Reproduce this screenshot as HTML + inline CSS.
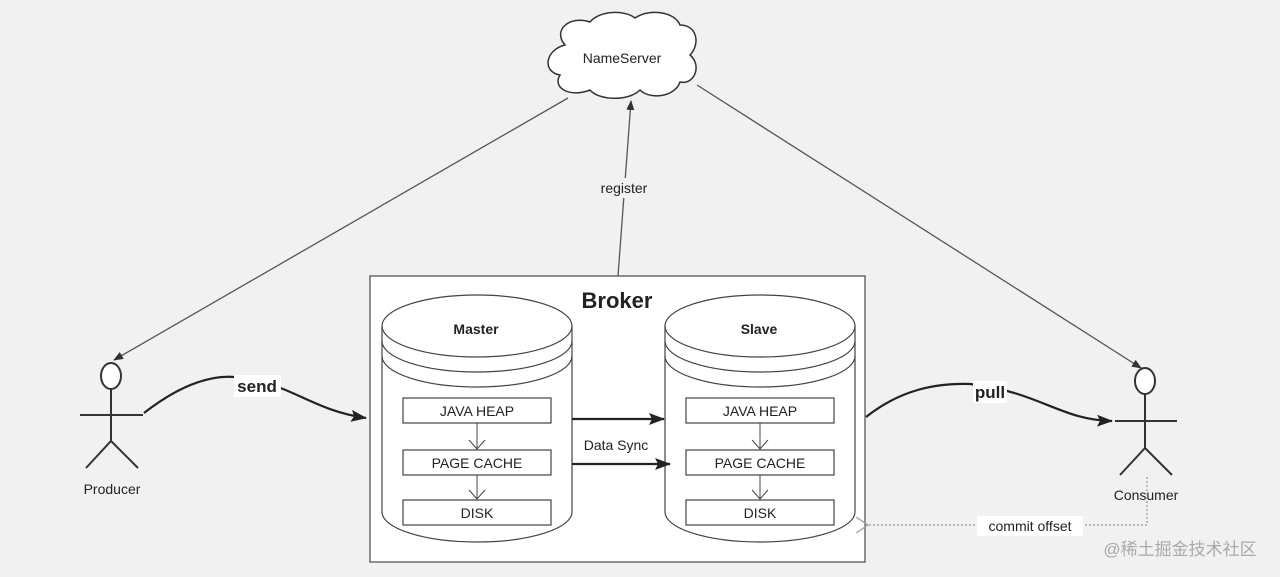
<!DOCTYPE html>
<html><head><meta charset="utf-8"><style>
html,body{margin:0;padding:0;background:#f1f1f1;}
svg{display:block}
text{font-family:"Liberation Sans",Arial,sans-serif;fill:#222}
</style></head><body>
<svg width="1280" height="577" viewBox="0 0 1280 577" xmlns="http://www.w3.org/2000/svg">
<defs>
<marker id="a" markerWidth="10" markerHeight="8" refX="9" refY="4" orient="auto" markerUnits="userSpaceOnUse"><path d="M0,0 L10,4 L0,8 Z" fill="#333"/></marker>
<marker id="b" markerWidth="16" markerHeight="12" refX="15" refY="6" orient="auto" markerUnits="userSpaceOnUse"><path d="M0,0 L16,6 L0,12 L3,6 Z" fill="#222"/></marker>
<marker id="o" markerWidth="14" markerHeight="16" refX="1" refY="8" orient="auto" markerUnits="userSpaceOnUse"><path d="M13,0 L1,8 L13,16" fill="none" stroke="#999" stroke-width="1.2"/></marker>
</defs>
<rect width="1280" height="577" fill="#f1f1f1"/>
<!-- nameserver lines -->
<line x1="568" y1="98" x2="114" y2="360" stroke="#555" stroke-width="1.3" marker-end="url(#a)"/>
<line x1="697" y1="85" x2="1141" y2="368" stroke="#555" stroke-width="1.3" marker-end="url(#a)"/>
<line x1="618" y1="276" x2="631" y2="101" stroke="#555" stroke-width="1.3" marker-end="url(#a)"/>
<rect x="592" y="178" width="64" height="20" fill="#f1f1f1"/>
<text x="624" y="193" font-size="14" text-anchor="middle">register</text>
<!-- cloud -->
<path d="M565,45 C552,30 570,15 590,22 C600,10 625,10 635,18 C650,8 675,12 680,25 C698,25 700,45 690,55 C702,65 695,85 680,82 C675,97 650,100 640,90 C628,102 598,100 590,90 C570,98 552,88 560,75 C542,72 545,50 565,45 Z" fill="#fff" stroke="#333" stroke-width="1.5"/>
<text x="622" y="63" font-size="14" text-anchor="middle">NameServer</text>
<!-- broker -->
<rect x="370" y="276" width="495" height="286" fill="#fff" stroke="#555" stroke-width="1.3"/>
<text x="617" y="308" font-size="22" font-weight="bold" text-anchor="middle">Broker</text>
<g id="cyl" stroke="#444" stroke-width="1.2" fill="#fff">
<path d="M382,326 A95,31 0 0 1 572,326 L572,512 A95,30 0 0 1 382,512 Z"/>
<path d="M382,326 A95,31 0 0 0 572,326" fill="none"/>
<path d="M382,341 A95,31 0 0 0 572,341" fill="none"/>
<path d="M382,356 A95,31 0 0 0 572,356" fill="none"/>
<rect x="403" y="398" width="148" height="25"/>
<rect x="403" y="450" width="148" height="25"/>
<rect x="403" y="500" width="148" height="25"/>
<line x1="477" y1="423" x2="477" y2="449" stroke-width="1"/>
<path d="M469,440 L477,449 L485,440" fill="none" stroke-width="1"/>
<line x1="477" y1="475" x2="477" y2="499" stroke-width="1"/>
<path d="M469,490 L477,499 L485,490" fill="none" stroke-width="1"/>
</g>
<use href="#cyl" x="283"/>
<g font-size="14" text-anchor="middle">
<text x="476" y="334" font-weight="bold">Master</text>
<text x="477" y="416">JAVA HEAP</text>
<text x="477" y="468">PAGE CACHE</text>
<text x="477" y="518">DISK</text>
<text x="759" y="334" font-weight="bold">Slave</text>
<text x="760" y="416">JAVA HEAP</text>
<text x="760" y="468">PAGE CACHE</text>
<text x="760" y="518">DISK</text>
<text x="616" y="450">Data Sync</text>
</g>
<line x1="572" y1="419" x2="664" y2="419" stroke="#222" stroke-width="2.2" marker-end="url(#b)"/>
<line x1="572" y1="464" x2="670" y2="464" stroke="#222" stroke-width="2.2" marker-end="url(#b)"/>
<!-- producer -->
<g stroke="#333" stroke-width="2" fill="none">
<ellipse cx="111" cy="376" rx="10" ry="13" fill="#fff"/>
<line x1="111" y1="389" x2="111" y2="441"/>
<line x1="80" y1="415" x2="143" y2="415"/>
<path d="M86,468 L111,441 L138,468"/>
<path d="M144,413 C180,385 210,375 235,377 C290,382 310,410 366,418" stroke="#222" stroke-width="2.2" marker-end="url(#b)"/>
</g>
<rect x="234" y="375" width="47" height="22" fill="#fff"/>
<text x="257" y="392" font-size="17" font-weight="bold" text-anchor="middle">send</text>
<text x="112" y="494" font-size="14" text-anchor="middle">Producer</text>
<!-- consumer -->
<g stroke="#333" stroke-width="2" fill="none">
<ellipse cx="1145" cy="381" rx="10" ry="13" fill="#fff"/>
<line x1="1145" y1="394" x2="1145" y2="448"/>
<line x1="1115" y1="421" x2="1177" y2="421"/>
<path d="M1120,475 L1145,448 L1172,475"/>
<path d="M866,417 C900,390 935,383 970,384 C1040,392 1060,420 1112,421" stroke="#222" stroke-width="2.2" marker-end="url(#b)"/>
</g>
<rect x="973" y="381" width="34" height="22" fill="#fff"/>
<text x="990" y="398" font-size="17" font-weight="bold" text-anchor="middle">pull</text>
<text x="1146" y="500" font-size="14" text-anchor="middle">Consumer</text>
<path d="M1147,477 L1147,525 L868,525" fill="none" stroke="#999" stroke-width="1.2" stroke-dasharray="2,2" marker-end="url(#o)"/>
<rect x="977" y="516" width="106" height="20" fill="#fff"/>
<text x="1030" y="531" font-size="14" text-anchor="middle">commit offset</text>
<text x="1180" y="555" font-size="17" text-anchor="middle" style="fill:#aaa;font-family:'Liberation Sans','Noto Sans CJK SC',sans-serif">@稀土掘金技术社区</text>
</svg>
</body></html>
